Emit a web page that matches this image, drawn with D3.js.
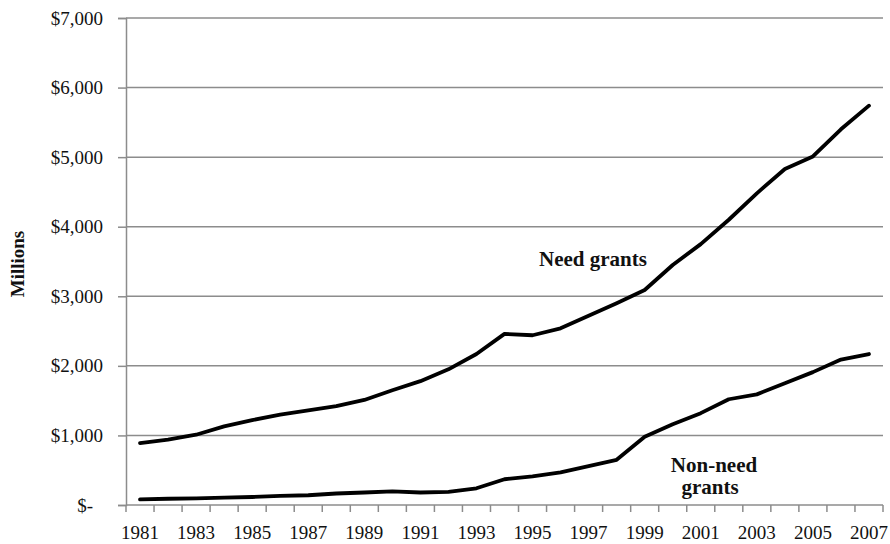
<!DOCTYPE html>
<html><head><meta charset="utf-8">
<script src="https://cdn.jsdelivr.net/npm/d3@7"></script>
<style>body{margin:0;background:#fff}svg{display:block}</style>
</head><body>
<script>
const years = d3.range(1981, 2008);
const needGrants = [890, 940, 1010, 1130, 1220, 1300, 1360, 1420, 1510, 1650, 1780, 1950, 2170, 2460, 2440, 2540, 2720, 2900, 3090, 3450, 3750, 4100, 4480, 4830, 5010, 5400, 5740];
const nonNeedGrants = [80, 90, 95, 105, 115, 130, 140, 165, 180, 195, 180, 190, 240, 370, 410, 470, 560, 650, 980, 1160, 1320, 1520, 1590, 1750, 1910, 2090, 2170];
const yTicks = [0, 1000, 2000, 3000, 4000, 5000, 6000, 7000];
const xLabelYears = years.filter(y => (y - 1981) % 2 === 0);

const W = 890, H = 544;
const svg = d3.select("body").append("svg").attr("width", W).attr("height", H);
const font = "'Liberation Serif','Times New Roman',serif";

const x = d3.scaleBand().domain(years).range([126, 883]).padding(0);
const y = d3.scaleLinear().domain([0, 7000]).range([505, 18]);
const cx = d => x(d) + x.bandwidth() / 2;

// gridlines
svg.append("g").selectAll("line").data(yTicks.filter(v => v > 0)).join("line")
  .attr("x1", 126).attr("x2", 883)
  .attr("y1", d => y(d)).attr("y2", d => y(d))
  .attr("stroke", "#8c8c8c").attr("stroke-width", 1.5);

// y axis
const yAxis = d3.axisLeft(y).tickValues(yTicks).tickSize(8).tickPadding(15)
  .tickFormat(d => d === 0 ? "$-" : "$" + d3.format(",")(d));
const gy = svg.append("g").attr("transform", "translate(126,0)").call(yAxis);
gy.select(".domain").attr("stroke", "#8c8c8c").attr("stroke-width", 1.5);
gy.selectAll(".tick line").attr("stroke", "#8c8c8c").attr("stroke-width", 1.5);
gy.selectAll(".tick text").attr("font-family", font).attr("font-size", 19).attr("fill", "#111")
  .attr("dx", d => d === 0 ? -10 : 0);

// x axis: ticks at band boundaries
const gx = svg.append("g");
gx.append("line").attr("x1", 126).attr("x2", 883).attr("y1", 505).attr("y2", 505)
  .attr("stroke", "#8c8c8c").attr("stroke-width", 1.5);
const bounds = years.map(d => x(d)).concat([x(years[years.length - 1]) + x.bandwidth()]);
gx.selectAll("line.tk").data(bounds).join("line").attr("class", "tk")
  .attr("x1", d => d).attr("x2", d => d).attr("y1", 505).attr("y2", 512)
  .attr("stroke", "#8c8c8c").attr("stroke-width", 1.5);
gx.selectAll("text").data(xLabelYears).join("text")
  .attr("x", d => cx(d)).attr("y", 539).attr("text-anchor", "middle")
  .attr("font-family", font).attr("font-size", 19).attr("fill", "#111").text(d => d);

// y title
svg.append("text").attr("transform", "translate(24,264) rotate(-90)")
  .attr("text-anchor", "middle").attr("font-family", font).attr("font-weight", "bold")
  .attr("font-size", 19).attr("fill", "#111").text("Millions");

// lines
const line = d3.line().x((d, i) => cx(years[i])).y(d => y(d));
[needGrants, nonNeedGrants].forEach(s => {
  svg.append("path").datum(s).attr("d", line).attr("fill", "none")
    .attr("stroke", "#000").attr("stroke-width", 3.8)
    .attr("stroke-linecap", "round").attr("stroke-linejoin", "round");
});

// labels
const lab = (t, xx, yy) => svg.append("text").attr("x", xx).attr("y", yy).attr("text-anchor", "middle")
  .attr("font-family", font).attr("font-weight", "bold").attr("font-size", 21).attr("fill", "#111").text(t);
lab("Need grants", 593, 266);
lab("Non-need", 714, 472);
lab("grants", 710, 494);
</script>
</body></html>
